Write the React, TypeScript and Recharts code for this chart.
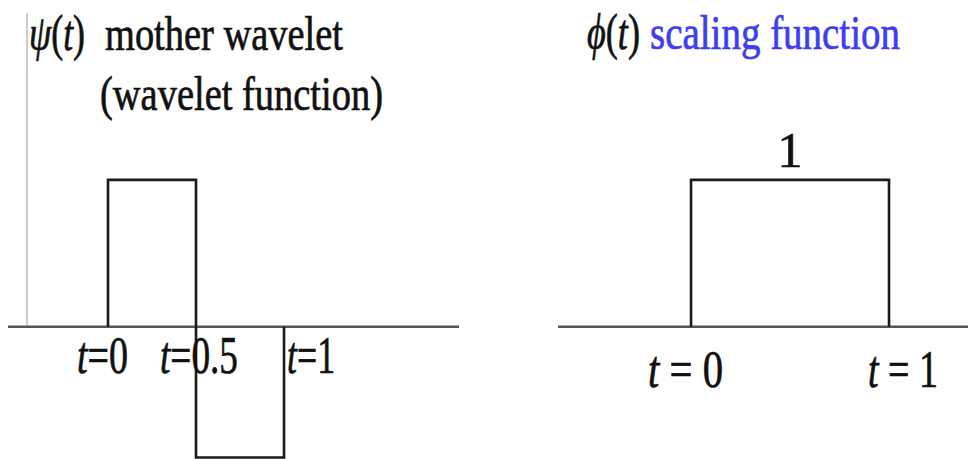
import React from "react";
import { LineChart, Line, XAxis, YAxis, ReferenceLine, ReferenceDot } from "recharts";

// Haar wavelet psi(t), step points
const waveletT = [0, 0, 0.5, 1];
const waveletV = [0, 1, -0.89, 0];
const waveletTicks = [0, 0.5, 1];
const waveletTickLabels = ["0", "0.5", "1"];

// scaling function phi(t), step points
const scalingT = [0, 0, 1];
const scalingV = [0, 1, 0];
const scalingTicks = [0, 1];
const scalingTickLabels = ["0", "1"];

const waveletData = waveletT.map((t, i) => ({ t, v: waveletV[i] }));
const scalingData = scalingT.map((t, i) => ({ t, v: scalingV[i] }));

const FONT = "'Liberation Serif', 'Times New Roman', serif";
const INK = "#111";

function TickText(props: any) {
  const { viewBox, label, dx, dy, width, tight } = props;
  const x = viewBox.x + (viewBox.width || 0) / 2 + dx;
  const y = viewBox.y + dy;
  return (
    <text
      x={x}
      y={y}
      fontFamily={FONT}
      fontSize={52}
      fill={INK}
      stroke={INK}
      strokeWidth={0.7}
      textLength={width}
      lengthAdjust="spacingAndGlyphs"
    >
      <tspan fontStyle="italic">t</tspan>
      <tspan>{tight ? "=" : " = "}</tspan>
      <tspan>{label}</tspan>
    </text>
  );
}

function ValueText(props: any) {
  const { viewBox, value } = props;
  const x = viewBox.x + (viewBox.width || 0) / 2;
  return (
    <text
      x={x}
      y={viewBox.y - 13}
      textAnchor="middle"
      fontFamily={FONT}
      fontSize={50}
      fill={INK}
      stroke={INK}
      strokeWidth={0.7}
    >
      {value}
    </text>
  );
}

const leftOffsets = [
  { dx: -31, w: 51 },
  { dx: -36, w: 78 },
  { dx: 3, w: 48 },
];
const rightOffsets = [
  { dx: -43, w: 75 },
  { dx: -21, w: 70 },
];

export default function App() {
  return (
    <div style={{ position: "absolute", left: 0, top: 0, width: 968, height: 459, overflow: "hidden", background: "#fff" }}>
      {/* left: mother wavelet */}
      <div style={{ position: "absolute", left: 0, top: 0 }}>
        <LineChart width={480} height={459} data={waveletData} margin={{ top: 13, right: 21, bottom: 0, left: 8 }}>
          <XAxis dataKey="t" type="number" domain={[-0.568, 1.994]} allowDataOverflow hide />
          <YAxis type="number" domain={[-0.9, 2.136]} allowDataOverflow hide />
          <ReferenceLine
            segment={[{ x: -0.46, y: 0 }, { x: -0.46, y: 2.136 }]}
            stroke="#aaa"
            strokeWidth={1.2}
          />
          <ReferenceLine y={0} stroke="#555" strokeWidth={2.6} />
          <Line
            type="stepAfter"
            dataKey="v"
            stroke="#1a1a1a"
            strokeWidth={2.6}
            dot={false}
            isAnimationActive={false}
          />
          {waveletTicks.map((t, i) => (
            <ReferenceDot
              key={t}
              x={t}
              y={0}
              r={0}
              stroke="none"
              fill="none"
              label={
                <TickText label={waveletTickLabels[i]} dx={leftOffsets[i].dx} dy={46} width={leftOffsets[i].w} tight />
              }
            />
          ))}
        </LineChart>
      </div>

      {/* right: scaling function */}
      <div style={{ position: "absolute", left: 480, top: 0 }}>
        <LineChart width={488} height={459} data={scalingData} margin={{ top: 13, right: 0, bottom: 0, left: 78 }}>
          <XAxis dataKey="t" type="number" domain={[-0.672, 1.399]} allowDataOverflow hide />
          <YAxis type="number" domain={[-0.9, 2.136]} allowDataOverflow hide />
          <ReferenceLine y={0} stroke="#555" strokeWidth={2.6} />
          <Line
            type="stepAfter"
            dataKey="v"
            stroke="#1a1a1a"
            strokeWidth={2.6}
            dot={false}
            isAnimationActive={false}
          />
          <ReferenceDot x={0.5} y={1} r={0} stroke="none" fill="none" label={<ValueText value="1" />} />
          {scalingTicks.map((t, i) => (
            <ReferenceDot
              key={t}
              x={t}
              y={0}
              r={0}
              stroke="none"
              fill="none"
              label={
                <TickText label={scalingTickLabels[i]} dx={rightOffsets[i].dx} dy={60} width={rightOffsets[i].w} />
              }
            />
          ))}
        </LineChart>
      </div>

      {/* titles */}
      <svg width={968} height={459} style={{ position: "absolute", left: 0, top: 0, pointerEvents: "none" }}>
        <g fontFamily={FONT} fill={INK} stroke={INK} strokeWidth={0.7}>
          <text x={29} y={50} fontSize={50} textLength={56} lengthAdjust="spacingAndGlyphs">
            <tspan fontStyle="italic">ψ</tspan>
            <tspan>(</tspan>
            <tspan fontStyle="italic">t</tspan>
            <tspan>)</tspan>
          </text>
          <text x={105} y={50} fontSize={49} textLength={238} lengthAdjust="spacingAndGlyphs">
            mother wavelet
          </text>
          <text x={100} y={110} fontSize={49} textLength={283} lengthAdjust="spacingAndGlyphs">
            (wavelet function)
          </text>
          <text x={587} y={49} fontSize={50} textLength={53} lengthAdjust="spacingAndGlyphs">
            <tspan fontStyle="italic">ϕ</tspan>
            <tspan>(</tspan>
            <tspan fontStyle="italic">t</tspan>
            <tspan>)</tspan>
          </text>
          <text
            x={650}
            y={49}
            fontSize={49}
            fill="#3d3df2"
            stroke="#3d3df2"
            textLength={250}
            lengthAdjust="spacingAndGlyphs"
          >
            scaling function
          </text>
        </g>
      </svg>
    </div>
  );
}
